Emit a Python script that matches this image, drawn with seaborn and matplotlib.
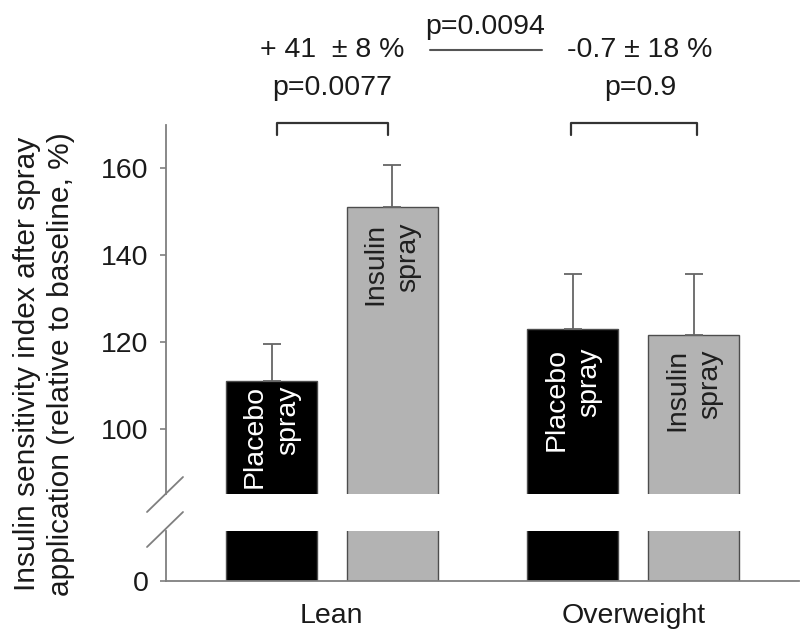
import numpy as np
import pandas as pd
import matplotlib
matplotlib.use("Agg")
import matplotlib.pyplot as plt
import seaborn as sns
from matplotlib.lines import Line2D

# ---------------- data ----------------
groups = ["Lean", "Lean", "Overweight", "Overweight"]
treatments = ["Placebo spray", "Insulin spray", "Placebo spray", "Insulin spray"]
means = [111.0, 151.0, 123.0, 121.6]
sems = [8.5, 9.9, 12.6, 14.0]
bar_labels = ["Placebo\nspray", "Insulin\nspray", "Placebo\nspray", "Insulin\nspray"]
upper_ticks = [100, 120, 140, 160]
lower_ticks = [0]
effect_texts = ["+ 41  \u00b1 8 %", "-0.7 \u00b1 18 %"]
p_texts = ["p=0.0077", "p=0.9"]
between_p = "p=0.0094"
ylabel = "Insulin sensitivity index after spray\napplication (relative to baseline, %)"

# ---------------- layout (not data) ----------------
label_tops = [110.1, 147.5, 118.7, 118.4]
bracket_spans = [(-0.183, 0.187), (0.793, 1.213)]
W, H = 801, 634
FS = 20.5

def fx(px):
    return px / W

def fy(py):
    return 1 - py / H

sns.set_style("ticks")
plt.rcParams["font.family"] = ["Liberation Sans", "DejaVu Sans"]

df = pd.DataFrame({"group": groups, "treatment": treatments, "value": means})
palette = {"Placebo spray": "#000000", "Insulin spray": "#b3b3b3"}

fig = plt.figure(figsize=(W / 100, H / 100), dpi=100)
ax_top = fig.add_axes([fx(166), fy(494), (799 - 166) / W, (494 - 125) / H])
ax_bot = fig.add_axes([fx(166), fy(581), (799 - 166) / W, (581 - 530.7) / H])

spine_col = "#7f7f7f"
for ax in (ax_top, ax_bot):
    sns.barplot(data=df, x="group", y="value", hue="treatment", palette=palette,
                width=0.8, gap=0.245, errorbar=None, legend=False, ax=ax,
                edgecolor="#4d4d4d", linewidth=1.0)
    ax.set_xlim(-0.55, 1.55)
    ax.set_xlabel("")
    ax.set_ylabel("")
    ax.spines["top"].set_visible(False)
    ax.spines["right"].set_visible(False)
    ax.spines["left"].set_color(spine_col)
    ax.spines["left"].set_linewidth(1.3)
    ax.spines["bottom"].set_color(spine_col)
    ax.spines["bottom"].set_linewidth(1.3)
    ax.tick_params(axis="y", length=4.5, width=1.2, color=spine_col,
                   labelsize=FS, labelcolor="#1a1a1a", pad=8)
    ax.patch.set_alpha(0)

ax_top.set_ylim(85, 170)
ax_top.set_yticks(upper_ticks)
ax_top.spines["bottom"].set_visible(False)
ax_top.tick_params(axis="x", bottom=False, labelbottom=False)

ax_bot.set_ylim(0, 11.6)
ax_bot.set_yticks(lower_ticks)
ax_bot.tick_params(axis="x", length=0, labelsize=FS, labelcolor="#1a1a1a", pad=16)

# error bars and bar labels on the upper axes
for p in ax_top.patches:
    h = p.get_height()
    cx = p.get_x() + p.get_width() / 2
    idx = int(np.argmin([abs(h - m) for m in means]))
    ax_top.errorbar(cx, h, yerr=[[0], [sems[idx]]], fmt="none", ecolor="#666666",
                    elinewidth=1.3, capsize=6.5, capthick=1.3, zorder=1)
    is_placebo = treatments[idx].startswith("Placebo")
    ax_top.text(cx, label_tops[idx], bar_labels[idx], rotation=90, ha="center", va="top",
                multialignment="right", linespacing=1.35, fontsize=FS,
                color="white" if is_placebo else "#1f1f1f", zorder=5)

# significance brackets
for x0, x1 in bracket_spans:
    ax_top.plot([x0, x0, x1, x1], [167.6, 170.5, 170.5, 167.6], color="#333333",
                lw=1.6, clip_on=False)

# annotations (figure pixels)
fig.text(fx(332), fy(50), effect_texts[0], ha="center", va="center", fontsize=FS, color="#1a1a1a")
fig.text(fx(332), fy(88), p_texts[0], ha="center", va="center", fontsize=FS, color="#1a1a1a")
fig.text(fx(640), fy(50), effect_texts[1], ha="center", va="center", fontsize=FS, color="#1a1a1a")
fig.text(fx(640), fy(88), p_texts[1], ha="center", va="center", fontsize=FS, color="#1a1a1a")
fig.text(fx(485), fy(27), between_p, ha="center", va="center", fontsize=FS, color="#1a1a1a")
fig.add_artist(Line2D([fx(430), fx(542)], [fy(50), fy(50)], color="#555555", lw=1.5))

# y label
fig.text(fx(44), fy(364), ylabel, rotation=90, ha="center", va="center",
         multialignment="center", linespacing=1.3, fontsize=21.5, color="#1a1a1a")

# axis break marks
for (xa, ya, xb, yb) in [(147, 512, 183, 477), (147, 547, 183, 512)]:
    fig.add_artist(Line2D([fx(xa), fx(xb)], [fy(ya), fy(yb)], color=spine_col, lw=1.3))

fig.savefig("out.png", dpi=100)
